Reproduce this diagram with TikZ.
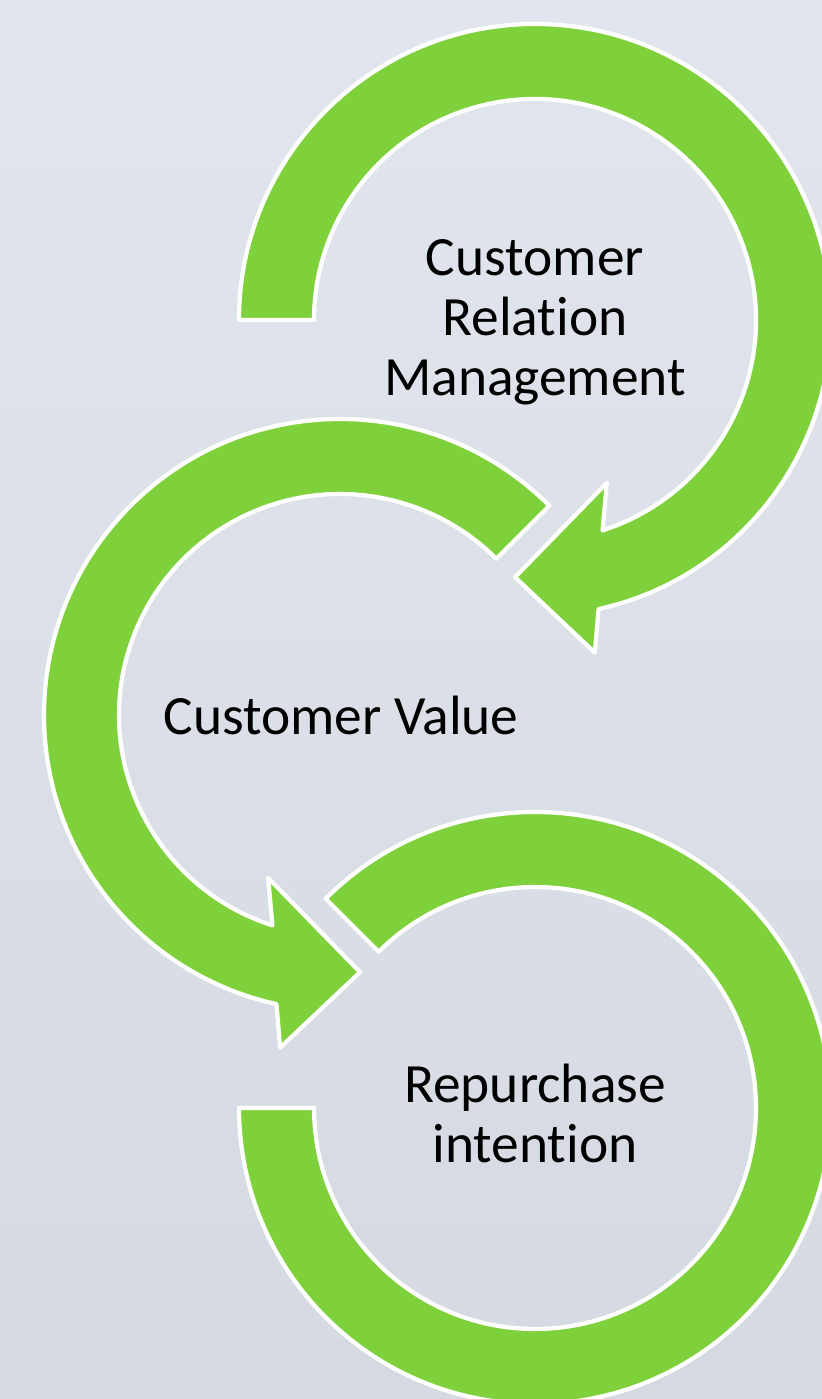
\documentclass[tikz,border=0pt]{standalone}
\usepackage{fontspec}
\setmainfont{Carlito}[Ligatures=NoCommon]
\usetikzlibrary{calc}
\definecolor{muitenxanh}{HTML}{7FD13B}
\definecolor{nentren}{HTML}{E1E5ED}
\definecolor{nenduoi}{HTML}{D5D9E2}
\tikzset{muiten/.style={draw=white, line width=2.1pt, fill=muitenxanh, line join=round},
	chu/.style={align=center, text=black, font=\fontsize{27.7}{30}\selectfont}}

\begin{document}
\begin{tikzpicture}[x=0.5pt,y=0.5pt]
	\shade [top color=nentren, bottom color=nenduoi] (0,0) rectangle (822,1399);
	\useasboundingbox (0,0) rectangle (822,1399);
	\coordinate (O1) at (535,1079);
	\coordinate (O2) at (340,684);
	\coordinate (O3) at (535,291);
	% vong tren
	\draw [muiten] ($(O1)+(180:296)$) arc[start angle=180, end angle=-77.6, radius=296]
		-- ($(O1)+(-79.8:338)$) -- ($(O1)+(-94.45:258)$) -- ($(O1)+(-66.2:178)$)
		-- ($(O1)+(-72.2:221)$) arc[start angle=-72.2, end angle=180, radius=221] -- cycle;
	% vong giua
	\draw [muiten] ($(O2)+(45:296)$) arc[start angle=45, end angle=257.6, radius=296]
		-- ($(O2)+(259.8:338)$) -- ($(O2)+(274.45:258)$) -- ($(O2)+(246.2:178)$)
		-- ($(O2)+(252.2:221)$) arc[start angle=252.2, end angle=45, radius=221] -- cycle;
	% vong duoi
	\draw [muiten] ($(O3)+(135:296)$) arc[start angle=135, end angle=-180, radius=296]
		-- ($(O3)+(180:221)$) arc[start angle=-180, end angle=135, radius=221] -- cycle;
	\node [chu] (crm) at ($(O1)+(0,-2)$) {Customer\\Relation\\Management};
	\node [chu] (cv) at ($(O2)+(1,0)$) {Customer Value};
	\node [chu] (ri) at ($(O3)+(0,-5)$) {Repurchase\\intention};
\end{tikzpicture}
\end{document}
